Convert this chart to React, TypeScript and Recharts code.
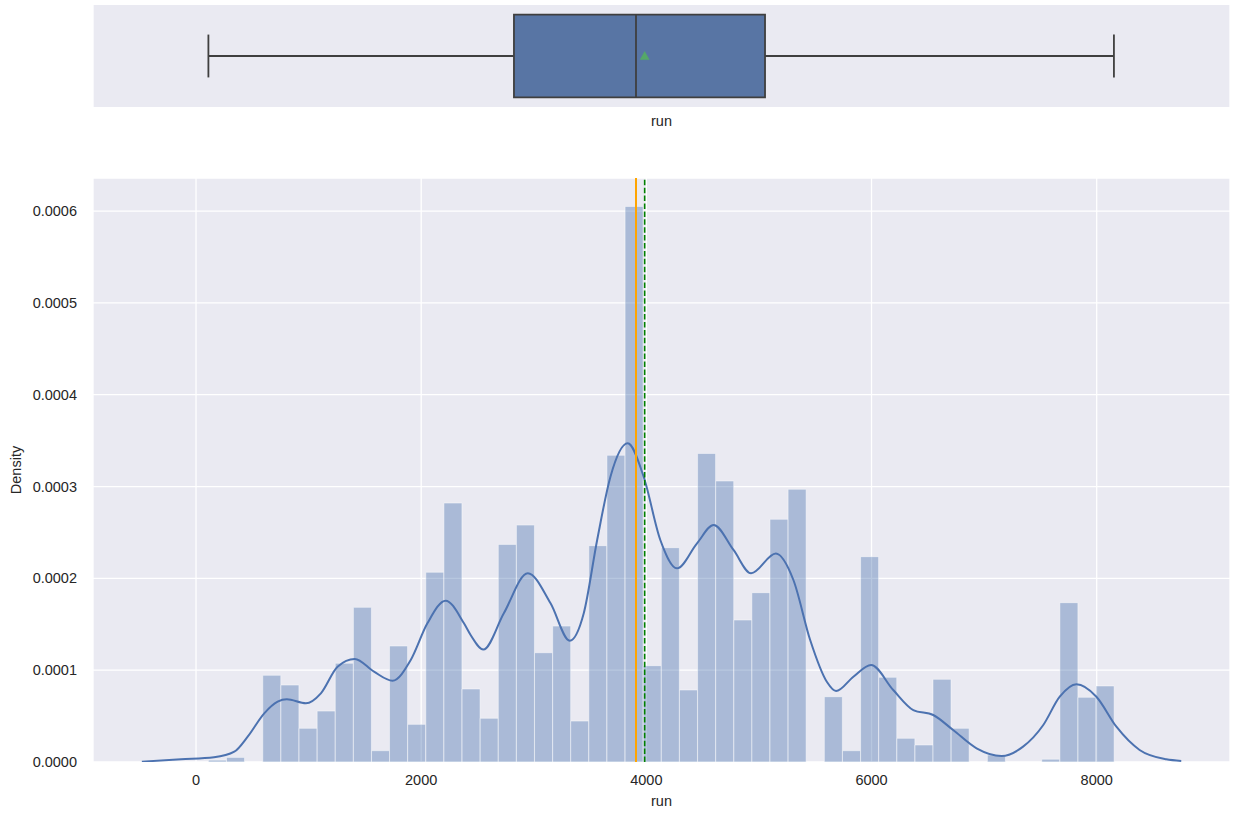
import React from 'react';
import {
  ComposedChart,
  Bar,
  Line,
  XAxis,
  YAxis,
  CartesianGrid,
  ReferenceLine,
  ReferenceArea,
  Scatter,
} from 'recharts';

// ---- histogram bins (bin centre of "run", density) ----
const binCenters = [
  190, 351, 512, 673, 834, 995, 1156, 1317, 1478, 1639,
  1799, 1960, 2121, 2282, 2443, 2604, 2765, 2926, 3087, 3248,
  3408, 3569, 3730, 3891, 4052, 4213, 4374, 4535, 4696, 4857,
  5017, 5178, 5339, 5500, 5661, 5822, 5983, 6144, 6305, 6466,
  6626, 6787, 6948, 7109, 7270, 7431, 7592, 7753, 7914, 8075,
];
const binDensity = [
  0.000002, 0.000005, 0, 0.0000944, 0.0000838, 0.0000367, 0.0000555, 0.0001075, 0.0001684, 0.0000123,
  0.0001263, 0.000041, 0.0002066, 0.000282, 0.0000795, 0.0000476, 0.000237, 0.000258, 0.000119, 0.000148,
  0.0000446, 0.0002356, 0.000334, 0.000605, 0.0001049, 0.0002334, 0.0000784, 0.000336, 0.000306, 0.0001546,
  0.0001844, 0.0002643, 0.000297, 0, 0.0000711, 0.0000123, 0.0002236, 0.0000922, 0.0000258, 0.0000185,
  0.00009, 0.0000367, 0, 0.0000076, 0, 0, 0.000003, 0.0001735, 0.0000704, 0.0000828,
];

// ---- KDE curve ----
const kdeX = [
  -481, -133, 160, 340, 459, 606, 725, 807, 976, 1109,
  1257, 1410, 1581, 1745, 1907, 2055, 2217, 2380, 2439, 2552,
  2734, 2947, 3149, 3320, 3444, 3563, 3681, 3834, 3976, 4124,
  4272, 4450, 4597, 4774, 4930, 5150, 5306, 5455, 5603,
  5685, 5839, 5996, 6193, 6371, 6548, 6725, 6933, 7155, 7346,
  7524, 7672, 7820, 7997, 8175, 8381, 8618, 8751,
];
const kdeY = [
  0.0000004, 0.0000029, 0.0000051, 0.0000112, 0.0000276, 0.000053, 0.0000657, 0.0000683, 0.0000639, 0.0000748,
  0.0001038, 0.0001122, 0.0000983, 0.0000885, 0.000111, 0.000151, 0.0001757, 0.000151, 0.0001383, 0.0001225,
  0.000162, 0.0002055, 0.0001728, 0.0001321, 0.000162, 0.0002418, 0.0003107, 0.000347, 0.0003107, 0.0002418,
  0.0002109, 0.0002382, 0.0002581, 0.0002309, 0.0002055, 0.000227, 0.0001982, 0.0001329, 0.0000874,
  0.0000773, 0.0000929, 0.0001056, 0.0000784, 0.0000566, 0.0000512, 0.0000348, 0.0000149, 0.0000065, 0.0000167,
  0.00004, 0.0000711, 0.0000846, 0.0000711, 0.0000384, 0.0000131, 0.0000029, 0.0000012,
];

// ---- box plot statistics ----
const whiskerLow = 110;
const q1 = 2824;
const median = 3908;
const q3 = 5054;
const whiskerHigh = 8153;
const mean = 3985;

// ---- axes ----
const xTicks = [0, 2000, 4000, 6000, 8000];
const yTicks = [0, 0.0001, 0.0002, 0.0003, 0.0004, 0.0005, 0.0006];
const xDomain = [-915, 9184];
const yMax = 0.000636;

const histData = binCenters.map((x, i) => ({ x, density: binDensity[i] }));
const kdeData = kdeX.map((x, i) => ({ x, d: kdeY[i] }));
const meanData = [{ x: mean, y: 0 }];

const FONT = '"Liberation Sans", Arial, sans-serif';
const TXT = '#262626';
const BG = '#eaeaf2';
const BOXLINE = '#3f3f3f';

const MeanMarker = (props: any) => {
  const { cx, cy } = props;
  if (cx == null || cy == null) return null;
  const s = 4.5;
  return (
    <polygon
      points={`${cx},${cy - s} ${cx - s},${cy + s * 0.8} ${cx + s},${cy + s * 0.8}`}
      fill="#55a868"
      stroke="#55a868"
      strokeWidth={0.5}
    />
  );
};

export default function App() {
  return (
    <div
      style={{
        position: 'absolute',
        left: 0,
        top: 0,
        width: 1237,
        height: 817,
        background: '#ffffff',
        fontFamily: FONT,
      }}
    >
      {/* Box plot */}
      <div style={{ position: 'absolute', left: 0, top: 0 }}>
        <ComposedChart
          width={1237}
          height={140}
          data={meanData}
          margin={{ top: 5, right: 7, left: 93, bottom: 0 }}
        >
          <CartesianGrid fill={BG} stroke="#ffffff" strokeWidth={1.3} horizontal={false} />
          <XAxis
            dataKey="x"
            type="number"
            domain={xDomain}
            ticks={xTicks}
            allowDataOverflow
            tick={false}
            tickLine={false}
            axisLine={false}
            height={33}
            label={{ value: 'run', position: 'insideBottom', offset: 14, fill: TXT, fontSize: 14.5 }}
          />
          <YAxis dataKey="y" type="number" domain={[-0.5, 0.5]} hide allowDataOverflow />
          <ReferenceLine
            segment={[{ x: whiskerLow, y: 0 }, { x: q1, y: 0 }]}
            stroke={BOXLINE}
            strokeWidth={1.8}
          />
          <ReferenceLine
            segment={[{ x: q3, y: 0 }, { x: whiskerHigh, y: 0 }]}
            stroke={BOXLINE}
            strokeWidth={1.8}
          />
          <ReferenceLine
            segment={[{ x: whiskerLow, y: -0.21 }, { x: whiskerLow, y: 0.21 }]}
            stroke={BOXLINE}
            strokeWidth={1.8}
          />
          <ReferenceLine
            segment={[{ x: whiskerHigh, y: -0.21 }, { x: whiskerHigh, y: 0.21 }]}
            stroke={BOXLINE}
            strokeWidth={1.8}
          />
          <ReferenceArea
            x1={q1}
            x2={q3}
            y1={-0.405}
            y2={0.405}
            fill="#5875a4"
            fillOpacity={1}
            stroke={BOXLINE}
            strokeWidth={1.8}
          />
          <ReferenceLine
            segment={[{ x: median, y: -0.405 }, { x: median, y: 0.405 }]}
            stroke={BOXLINE}
            strokeWidth={1.8}
          />
          <Scatter data={meanData} shape={<MeanMarker />} isAnimationActive={false} />
        </ComposedChart>
      </div>

      {/* Histogram + KDE */}
      <div style={{ position: 'absolute', left: 0, top: 140 }}>
        <ComposedChart
          width={1237}
          height={677}
          data={histData}
          margin={{ top: 38, right: 7, left: 0, bottom: 0 }}
          barCategoryGap={0}
          barGap={0}
        >
          <CartesianGrid fill={BG} stroke="#ffffff" strokeWidth={1.3} />
          <XAxis
            dataKey="x"
            type="number"
            domain={xDomain}
            ticks={xTicks}
            allowDataOverflow
            tickLine={false}
            axisLine={false}
            tickSize={6}
            tickMargin={7}
            height={55}
            tick={{ fill: TXT, fontSize: 14.5 }}
            label={{ value: 'run', position: 'insideBottom', offset: 11, fill: TXT, fontSize: 14.5 }}
          />
          <XAxis xAxisId="kde" dataKey="x" type="number" domain={xDomain} allowDataOverflow hide />
          <YAxis
            type="number"
            domain={[0, yMax]}
            ticks={yTicks}
            allowDataOverflow
            width={93}
            tickLine={false}
            axisLine={false}
            tickSize={6}
            tickMargin={10}
            tick={{ fill: TXT, fontSize: 14.5 }}
            tickFormatter={(v: number) => v.toFixed(4)}
            label={{
              value: 'Density',
              angle: -90,
              position: 'insideLeft',
              offset: 16,
              fill: TXT,
              fontSize: 14.5,
              style: { textAnchor: 'middle' },
            }}
          />
          <Bar
            dataKey="density"
            fill="#4c72b0"
            fillOpacity={0.4}
            stroke="#ffffff"
            strokeOpacity={0.45}
            strokeWidth={1}
            isAnimationActive={false}
          />
          <Line
            xAxisId="kde"
            data={kdeData}
            dataKey="d"
            type="monotone"
            stroke="#4c72b0"
            strokeWidth={2}
            dot={false}
            activeDot={false}
            isAnimationActive={false}
          />
          <ReferenceLine x={median} stroke="#ffa500" strokeWidth={2} />
          <ReferenceLine x={mean} stroke="#008000" strokeWidth={1.6} strokeDasharray="5.5 2.4" />
        </ComposedChart>
      </div>
    </div>
  );
}
